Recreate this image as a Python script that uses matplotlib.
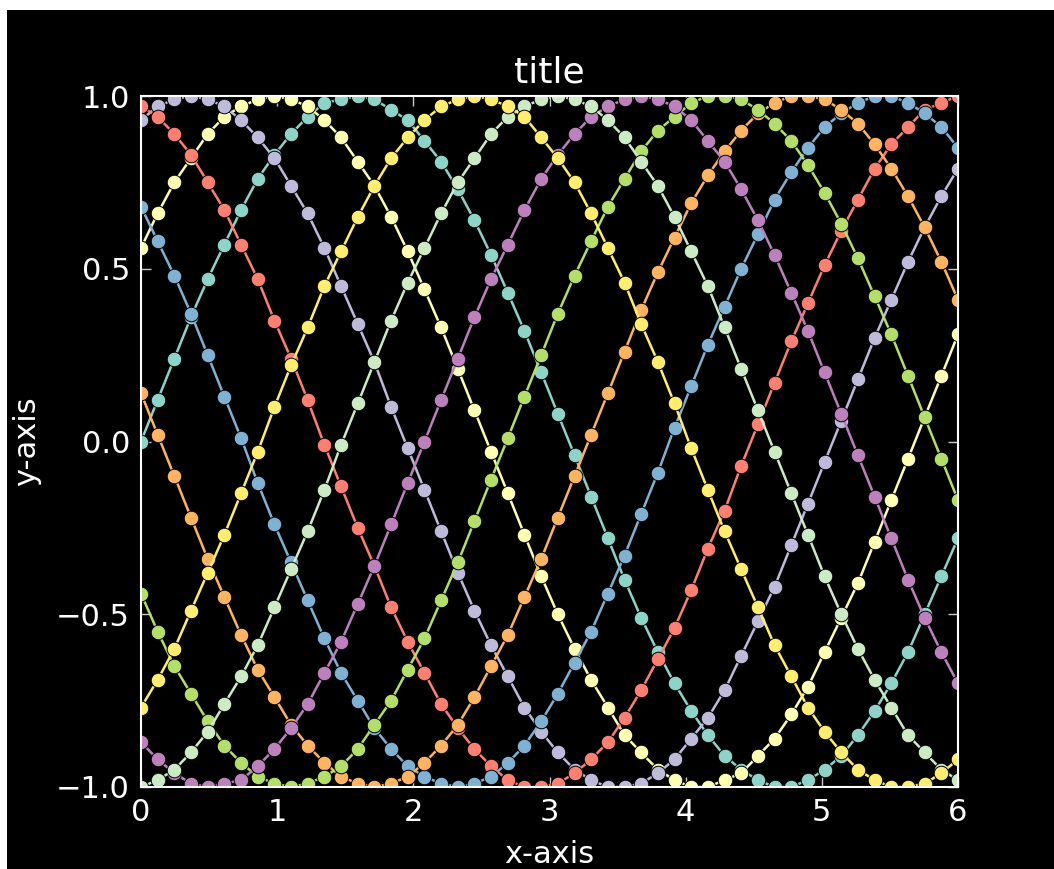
import matplotlib
matplotlib.use("Agg")
import matplotlib.pyplot as plt
from matplotlib.patches import Rectangle

# x positions of the 50 markers (0 .. 6)
X = [0.000, 0.122, 0.245, 0.367, 0.490, 0.612, 0.735, 0.857, 0.980, 1.102,
     1.224, 1.347, 1.469, 1.592, 1.714, 1.837, 1.959, 2.082, 2.204, 2.327,
     2.449, 2.571, 2.694, 2.816, 2.939, 3.061, 3.184, 3.306, 3.429, 3.551,
     3.673, 3.796, 3.918, 4.041, 4.163, 4.286, 4.408, 4.531, 4.653, 4.776,
     4.898, 5.020, 5.143, 5.265, 5.388, 5.510, 5.633, 5.755, 5.878, 6.000]

TEAL = [0.00, 0.12, 0.24, 0.36, 0.47, 0.57, 0.67, 0.76, 0.83, 0.89,
        0.94, 0.98, 0.99, 1.00, 0.99, 0.96, 0.93, 0.87, 0.81, 0.73,
        0.64, 0.54, 0.43, 0.32, 0.20, 0.08, -0.04, -0.16, -0.28, -0.40,
        -0.51, -0.61, -0.70, -0.78, -0.85, -0.91, -0.95, -0.98, -1.00, -1.00,
        -0.98, -0.95, -0.91, -0.85, -0.78, -0.70, -0.61, -0.50, -0.39, -0.28]

PALE_YELLOW = [0.56, 0.66, 0.75, 0.82, 0.89, 0.94, 0.97, 0.99, 1.00, 0.99,
               0.97, 0.93, 0.88, 0.81, 0.74, 0.65, 0.55, 0.44, 0.33, 0.21,
               0.09, -0.03, -0.15, -0.27, -0.39, -0.50, -0.60, -0.69, -0.77, -0.85,
               -0.90, -0.95, -0.98, -1.00, -1.00, -0.98, -0.96, -0.91, -0.86, -0.79,
               -0.71, -0.61, -0.51, -0.41, -0.29, -0.17, -0.05, 0.07, 0.19, 0.31]

LAVENDER = [0.93, 0.97, 0.99, 1.00, 0.99, 0.97, 0.93, 0.88, 0.82, 0.74,
            0.66, 0.56, 0.45, 0.34, 0.23, 0.10, -0.02, -0.14, -0.26, -0.38,
            -0.49, -0.59, -0.68, -0.77, -0.84, -0.90, -0.95, -0.98, -1.00, -1.00,
            -0.99, -0.96, -0.92, -0.86, -0.80, -0.72, -0.62, -0.52, -0.42, -0.30,
            -0.18, -0.06, 0.06, 0.18, 0.30, 0.41, 0.52, 0.62, 0.71, 0.79]

RED = [0.97, 0.94, 0.89, 0.83, 0.75, 0.67, 0.57, 0.47, 0.35, 0.24,
       0.12, -0.01, -0.13, -0.25, -0.36, -0.48, -0.58, -0.67, -0.76, -0.83,
       -0.89, -0.94, -0.98, -1.00, -1.00, -0.99, -0.96, -0.92, -0.87, -0.80,
       -0.72, -0.63, -0.54, -0.43, -0.31, -0.20, -0.07, 0.05, 0.17, 0.29,
       0.40, 0.51, 0.61, 0.70, 0.79, 0.86, 0.91, 0.96, 0.98, 1.00]

BLUE = [0.68, 0.58, 0.48, 0.37, 0.25, 0.13, 0.01, -0.12, -0.24, -0.35,
        -0.46, -0.57, -0.67, -0.75, -0.83, -0.89, -0.94, -0.97, -0.99, -1.00,
        -0.99, -0.97, -0.93, -0.88, -0.81, -0.73, -0.64, -0.55, -0.44, -0.33,
        -0.21, -0.09, 0.04, 0.16, 0.28, 0.39, 0.50, 0.60, 0.70, 0.78,
        0.85, 0.91, 0.95, 0.98, 1.00, 1.00, 0.98, 0.95, 0.91, 0.85]

ORANGE = [0.14, 0.02, -0.10, -0.22, -0.34, -0.45, -0.56, -0.66, -0.74, -0.82,
          -0.88, -0.93, -0.97, -0.99, -1.00, -0.99, -0.97, -0.93, -0.88, -0.82,
          -0.74, -0.65, -0.56, -0.45, -0.34, -0.22, -0.10, 0.02, 0.14, 0.26,
          0.38, 0.49, 0.59, 0.69, 0.77, 0.84, 0.90, 0.95, 0.98, 1.00,
          1.00, 0.99, 0.96, 0.92, 0.86, 0.79, 0.71, 0.62, 0.52, 0.41]

GREEN = [-0.44, -0.55, -0.65, -0.73, -0.81, -0.88, -0.93, -0.97, -0.99, -1.00,
         -0.99, -0.97, -0.94, -0.89, -0.82, -0.75, -0.66, -0.57, -0.46, -0.35,
         -0.23, -0.11, 0.01, 0.13, 0.25, 0.37, 0.48, 0.58, 0.68, 0.76,
         0.84, 0.90, 0.94, 0.98, 1.00, 1.00, 0.99, 0.96, 0.92, 0.87,
         0.80, 0.72, 0.63, 0.53, 0.42, 0.31, 0.19, 0.07, -0.05, -0.17]

PURPLE = [-0.87, -0.92, -0.96, -0.99, -1.00, -0.99, -0.98, -0.94, -0.89, -0.83,
          -0.76, -0.67, -0.58, -0.47, -0.36, -0.24, -0.12, 0.00, 0.12, 0.24,
          0.36, 0.47, 0.57, 0.67, 0.76, 0.83, 0.89, 0.94, 0.97, 0.99,
          1.00, 0.99, 0.97, 0.93, 0.87, 0.81, 0.73, 0.64, 0.54, 0.43,
          0.32, 0.20, 0.08, -0.04, -0.16, -0.28, -0.40, -0.51, -0.61, -0.70]

MINT = [-1.00, -0.98, -0.95, -0.90, -0.84, -0.76, -0.68, -0.59, -0.48, -0.37,
        -0.26, -0.14, -0.01, 0.11, 0.23, 0.35, 0.46, 0.56, 0.66, 0.75,
        0.82, 0.89, 0.94, 0.97, 0.99, 1.00, 0.99, 0.97, 0.93, 0.88,
        0.81, 0.74, 0.65, 0.55, 0.45, 0.33, 0.21, 0.09, -0.03, -0.15,
        -0.27, -0.39, -0.50, -0.60, -0.69, -0.77, -0.85, -0.90, -0.95, -0.98]

YELLOW = [-0.77, -0.69, -0.60, -0.49, -0.38, -0.27, -0.15, -0.03, 0.10, 0.22,
          0.33, 0.45, 0.55, 0.65, 0.74, 0.82, 0.88, 0.93, 0.97, 0.99,
          1.00, 0.99, 0.97, 0.94, 0.88, 0.82, 0.75, 0.66, 0.56, 0.46,
          0.34, 0.23, 0.11, -0.02, -0.14, -0.26, -0.37, -0.48, -0.59, -0.68,
          -0.77, -0.84, -0.90, -0.95, -0.98, -1.00, -1.00, -0.99, -0.96, -0.92]

SERIES = [TEAL, PALE_YELLOW, LAVENDER, RED, BLUE, ORANGE, GREEN, PURPLE, MINT, YELLOW]
COLORS = ["#8dd3c7", "#ffffb3", "#bebada", "#fb8072", "#80b1d3",
          "#fdb462", "#b3de69", "#bc80bd", "#ccebc5", "#ffed6f"]

X_TICKS = [0, 1, 2, 3, 4, 5, 6]
Y_TICKS = [-1.0, -0.5, 0.0, 0.5, 1.0]

W, H = 1054, 869
fig = plt.figure(figsize=(W / 100, H / 100), dpi=100, facecolor="white")
# black figure area, offset by a thin white strip at top and left
fig.patches.append(Rectangle((7 / W, 0), 1, (H - 10) / H, transform=fig.transFigure,
                             facecolor="black", edgecolor="none", zorder=-10))

ax = fig.add_axes([141 / W, 1 - 787 / H, (958 - 141) / W, (787 - 96) / H])
ax.set_facecolor("black")

for ys, c in zip(SERIES, COLORS):
    ax.plot(X, ys, "o-", color=c, lw=1.8, ms=10.5,
            markeredgecolor="black", markeredgewidth=0.7)

ax.set_xlim(0, 6)
ax.set_ylim(-1, 1)
ax.set_xticks(X_TICKS)
ax.set_yticks(Y_TICKS)
ax.set_yticklabels([f"{v:.1f}".replace("-", "\u2212") for v in Y_TICKS])

for s in ax.spines.values():
    s.set_color("white")
    s.set_linewidth(1.5)
ax.tick_params(direction="in", top=True, right=True, length=7, width=1,
               colors="white", labelsize=22, pad=8)
ax.tick_params(axis="both", which="both", color="#cccccc")

ax.set_title("title", color="white", fontsize=26, pad=10)
ax.set_xlabel("x-axis", color="white", fontsize=22, labelpad=9)
ax.set_ylabel("y-axis", color="white", fontsize=22, labelpad=11)

fig.savefig("out.png", dpi=100, facecolor=fig.get_facecolor())
